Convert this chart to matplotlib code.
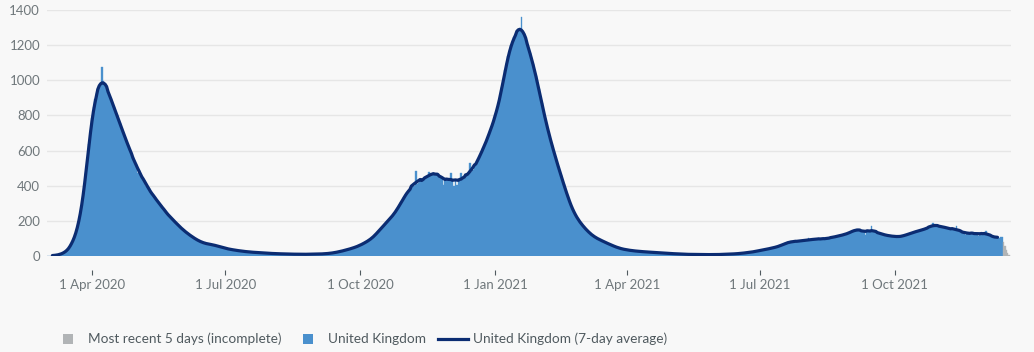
import matplotlib
matplotlib.use("Agg")
import matplotlib.pyplot as plt
from matplotlib.patches import Rectangle
from matplotlib.legend_handler import HandlerPatch
from matplotlib.lines import Line2D
import numpy as np
import pandas as pd

# ---------------- data (daily deaths) ----------------
start_date = "2020-03-02"
n_incomplete = 5  # most recent 5 days (incomplete)

deaths_2020_03 = [1, 1, 2, 3, 2, 4, 5, 6, 8, 11, 14, 18, 24, 30, 38, 48, 62, 80, 104, 128,
                  150, 180, 220, 270, 330, 400, 475, 555, 635, 715]
deaths_2020_04 = [785, 850, 895, 925, 950, 960, 985, 1075, 995, 975, 960, 935, 915, 895, 870,
                  850, 822, 800, 778, 756, 735, 712, 688, 665, 645, 620, 600, 582, 562, 545]
deaths_2020_05 = [525, 470, 490, 472, 455, 440, 432, 398, 380, 385, 370, 355, 340, 335, 315,
                  305, 302, 290, 278, 262, 255, 245, 235, 225, 216, 208, 200, 193, 182, 175, 166]
deaths_2020_06 = [158, 150, 143, 136, 130, 124, 118, 112, 106, 100, 95, 90, 86, 82, 78,
                  75, 72, 70, 68, 67, 66, 65, 64, 61, 58, 56, 53, 50, 48, 46]
deaths_2020_07 = [44, 42, 40, 38, 37, 36, 34, 33, 32, 30, 29, 28, 27, 26, 25, 24,
                  23, 23, 22, 21, 21, 20, 19, 19, 18, 18, 17, 17, 16, 16, 15]
deaths_2020_08 = [15, 14, 14, 14, 13, 13, 13, 12, 12, 12, 12, 11, 11, 11, 11, 10,
                  11, 10, 10, 10, 10, 9, 10, 10, 10, 10, 10, 10, 10, 11, 11]
deaths_2020_09 = [11, 11, 11, 12, 12, 12, 13, 13, 14, 15, 16, 17, 18, 20, 21,
                  23, 25, 27, 29, 31, 33, 35, 38, 40, 43, 45, 48, 51, 54, 57]
deaths_2020_10 = [61, 65, 70, 74, 79, 84, 89, 94, 100, 108, 116, 125, 135, 145, 155, 163,
                  172, 180, 190, 200, 210, 218, 226, 235, 248, 261, 275, 290, 305, 320, 334]
deaths_2020_11 = [347, 360, 372, 384, 390, 396, 400, 484, 410, 418, 428, 432, 436, 440, 445,
                  450, 480, 460, 462, 475, 466, 468, 470, 462, 458, 452, 405, 440, 435, 430]
deaths_2020_12 = [428, 475, 440, 400, 437, 405, 440, 432, 470, 430, 438, 448, 455, 462, 530,
                  478, 492, 510, 520, 538, 556, 575, 593, 612, 630, 650, 670, 690, 715, 742, 770]
deaths_2021_01 = [790, 810, 845, 880, 920, 960, 1010, 1060, 1100, 1140, 1170, 1200, 1225, 1245,
                  1262, 1275, 1285, 1300, 1360, 1285, 1262, 1235, 1208, 1180, 1155, 1130, 1095,
                  1060, 1025, 990, 950]
deaths_2021_02 = [910, 870, 830, 792, 755, 722, 690, 660, 630, 600, 570, 542, 515, 488,
                  460, 435, 410, 382, 355, 330, 305, 285, 265, 247, 230, 217, 205, 192]
deaths_2021_03 = [182, 172, 162, 153, 144, 135, 128, 121, 114, 108, 103, 99, 95, 91, 87, 83,
                  79, 75, 71, 68, 64, 60, 57, 53, 50, 47, 44, 42, 40, 38, 36]
deaths_2021_04 = [35, 34, 33, 31, 30, 29, 28, 28, 27, 26, 25, 25, 24, 23, 23,
                  22, 22, 21, 21, 20, 19, 19, 18, 18, 17, 16, 16, 15, 15, 14]
deaths_2021_05 = [14, 14, 13, 13, 12, 12, 11, 11, 11, 10, 10, 10, 9, 9, 9, 9,
                  9, 8, 8, 8, 8, 8, 8, 8, 8, 8, 8, 8, 8, 8, 8]
deaths_2021_06 = [8, 8, 9, 9, 9, 9, 10, 10, 10, 11, 11, 11, 12, 12, 13,
                  14, 14, 15, 16, 17, 18, 19, 20, 21, 22, 23, 25, 26, 28, 30]
deaths_2021_07 = [32, 33, 35, 36, 38, 40, 41, 43, 45, 47, 49, 51, 53, 56, 59, 62,
                  67, 72, 74, 76, 78, 86, 80, 82, 83, 84, 85, 86, 86, 87, 88]
deaths_2021_08 = [89, 89, 100, 91, 92, 93, 94, 95, 96, 104, 97, 98, 99, 90, 101, 102,
                  103, 104, 106, 107, 109, 111, 113, 115, 117, 119, 121, 123, 126, 129, 132]
deaths_2021_09 = [136, 141, 146, 150, 151, 150, 148, 147, 145, 143, 118, 143, 143, 142, 170,
                  140, 138, 136, 134, 131, 128, 125, 122, 120, 118, 116, 115, 114, 113, 112]
deaths_2021_10 = [111, 110, 110, 110, 110, 112, 115, 118, 122, 125, 127, 129, 132, 136, 139, 141,
                  143, 145, 147, 150, 152, 155, 158, 162, 166, 170, 190, 174, 173, 171, 170]
deaths_2021_11 = [168, 167, 165, 163, 161, 159, 157, 155, 152, 150, 148, 170, 144, 142, 140,
                  138, 136, 120, 133, 131, 130, 129, 129, 130, 131, 130, 115, 129, 128, 127]
deaths_2021_12 = [127, 140, 124, 120, 117, 113, 110, 107, 104, 102, 104, 110, 108,
                  82, 58, 36, 16, 5]

x_ticks = ["2020-04-01", "2020-07-01", "2020-10-01", "2021-01-01",
           "2021-04-01", "2021-07-01", "2021-10-01"]
x_tick_labels = ["1 Apr 2020", "1 Jul 2020", "1 Oct 2020", "1 Jan 2021",
                 "1 Apr 2021", "1 Jul 2021", "1 Oct 2021"]
y_ticks = [0, 200, 400, 600, 800, 1000, 1200, 1400]

legend_labels = ["Most recent 5 days (incomplete)", "United Kingdom",
                 "United Kingdom (7-day average)"]

# ---------------- assemble ----------------
monthly = [deaths_2020_03, deaths_2020_04, deaths_2020_05, deaths_2020_06, deaths_2020_07,
           deaths_2020_08, deaths_2020_09, deaths_2020_10, deaths_2020_11, deaths_2020_12,
           deaths_2021_01, deaths_2021_02, deaths_2021_03, deaths_2021_04, deaths_2021_05,
           deaths_2021_06, deaths_2021_07, deaths_2021_08, deaths_2021_09, deaths_2021_10,
           deaths_2021_11, deaths_2021_12]
daily = np.concatenate([np.asarray(m, dtype=float) for m in monthly])
dates = pd.date_range(start_date, periods=len(daily), freq="D")

complete = pd.Series(daily[:-n_incomplete], index=dates[:-n_incomplete])
avg7 = complete.rolling(7, center=True).mean()

BG = "#f8f8f8"
BAR = "#4a90cd"
GREY = "#b1b4b6"
LINE = "#0b2c72"
GRID = "#e6e6e6"
TICK_TXT = "#6f777b"
LEG_TXT = "#505a5f"

plt.rcParams["font.family"] = ["Lato", "DejaVu Sans"]

W, H = 1034, 352
fig = plt.figure(figsize=(W / 100, H / 100), dpi=100, facecolor=BG)
ax = fig.add_axes([47 / W, 1 - 256 / H, (1011 - 47) / W, 246 / H])
ax.set_facecolor(BG)

ax.bar(complete.index, complete.values, width=1.0, color=BAR, linewidth=0.25,
       edgecolor=BAR, zorder=2)
ax.bar(dates[-n_incomplete:], daily[-n_incomplete:], width=1.0, color=GREY,
       linewidth=0.25, edgecolor=GREY, zorder=2)
ax.plot(avg7.index, avg7.values, color=LINE, lw=2.3, solid_joinstyle="round",
        solid_capstyle="round", zorder=3)

ax.set_xlim(pd.Timestamp("2020-03-01 08:00"), pd.Timestamp("2021-12-19 05:00"))
ax.set_ylim(0, 1400)
ax.set_yticks(y_ticks)
ax.set_yticklabels([str(v) for v in y_ticks])
ax.grid(axis="y", color=GRID, lw=1, zorder=0)
ax.set_axisbelow(True)

ax.set_xticks([pd.Timestamp(t) for t in x_ticks])
ax.set_xticklabels(x_tick_labels)

for s in ["top", "right", "left"]:
    ax.spines[s].set_visible(False)
ax.spines["bottom"].set_position(("outward", 10))
ax.spines["bottom"].set_visible(False)

ax.tick_params(axis="x", length=3.6, width=0.8, color=LEG_TXT, pad=3,
               labelsize=9.5, labelcolor=TICK_TXT)
ax.tick_params(axis="y", length=0, pad=5, labelsize=9.5, labelcolor=TICK_TXT)


def square_patch(legend, orig_handle, xdescent, ydescent, width, height, fontsize):
    s = 7.2
    return Rectangle((-xdescent + width / 2 - s / 2, -ydescent + height / 2 - s / 2), s, s)


LEG_FS = 9.8
handles = [Rectangle((0, 0), 1, 1, facecolor=GREY, edgecolor="none"),
           Rectangle((0, 0), 1, 1, facecolor=BAR, edgecolor="none"),
           Line2D([0], [0], color=LINE, lw=2.3)]
fig.legend(handles, legend_labels, loc="center left",
           bbox_to_anchor=(53 / W, 1 - 339 / H), ncol=3, frameon=False,
           fontsize=LEG_FS, labelcolor=LEG_TXT, handlelength=21.6 / LEG_FS,
           handletextpad=3.6 / LEG_FS, columnspacing=8.6 / LEG_FS,
           borderpad=0, borderaxespad=0,
           handler_map={Rectangle: HandlerPatch(patch_func=square_patch)})

fig.savefig("out.png", dpi=100, facecolor=BG)
